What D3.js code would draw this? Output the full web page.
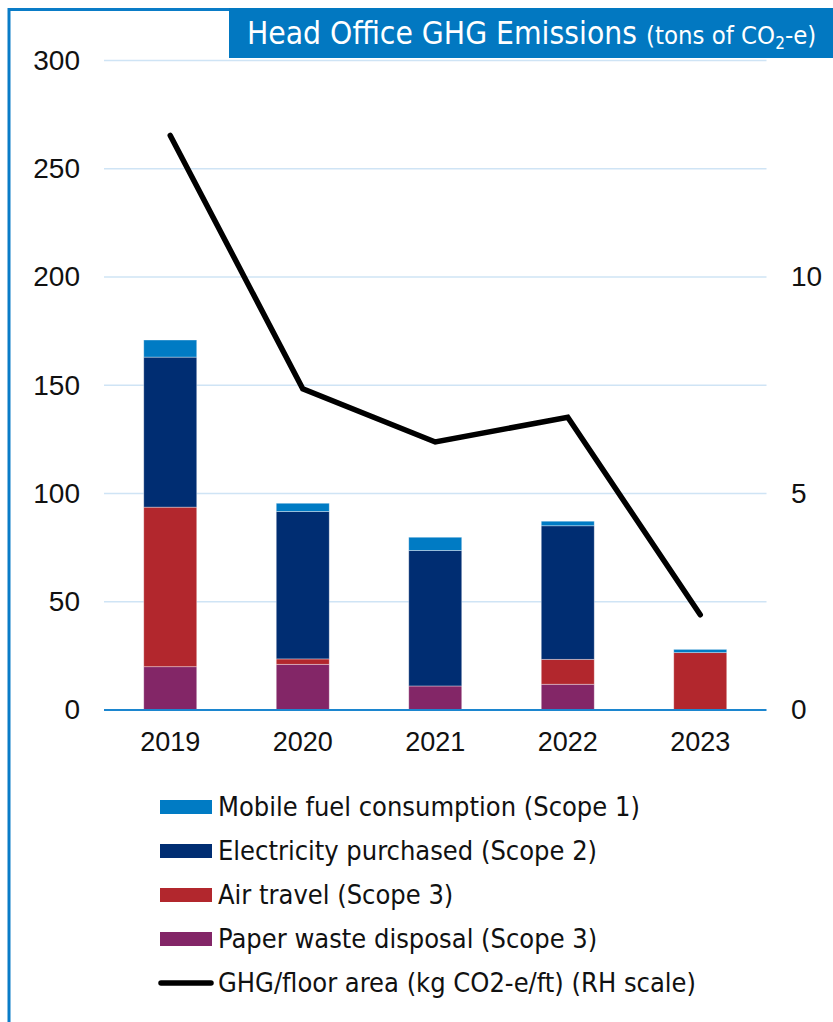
<!DOCTYPE html>
<html>
<head>
<meta charset="utf-8">
<script src="https://cdn.jsdelivr.net/npm/d3@7"></script>
<style>
  body { margin: 0; background: #fff; }
  svg { display: block; font-family: "DejaVu Sans Condensed", "Liberation Sans Narrow", sans-serif; }
</style>
</head>
<body>
<svg id="chart" width="833" height="1022"></svg>
<script>
const years = ['2019', '2020', '2021', '2022', '2023'];
const mobileFuel = [7.9, 3.8, 6.1, 2.1, 1.5];
const electricity = [69.3, 68.1, 62.6, 61.7, 0];
const airTravel = [73.7, 2.5, 0, 11.5, 26.5];
const paperWaste = [20.0, 21.1, 11.1, 11.9, 0];
const ghgPerArea = [13.27, 7.42, 6.19, 6.76, 2.2];
const leftTicks = [0, 50, 100, 150, 200, 250, 300];
const rightTicks = [0, 5, 10];

const seriesNames = ['Mobile fuel consumption (Scope 1)', 'Electricity purchased (Scope 2)',
  'Air travel (Scope 3)', 'Paper waste disposal (Scope 3)'];
const lineName = 'GHG/floor area (kg CO2-e/ft) (RH scale)';
const colors = {paper: '#832667', air: '#b2272d', elec: '#002d72', mobile: '#007bc4'};

const svg = d3.select('#chart');
const blue = '#0a7cc7';

// frame
svg.append('line').attr('x1', 9).attr('x2', 9).attr('y1', 8).attr('y2', 1022)
  .attr('stroke', blue).attr('stroke-width', 3);
svg.append('line').attr('x1', 8).attr('x2', 232).attr('y1', 9.5).attr('y2', 9.5)
  .attr('stroke', blue).attr('stroke-width', 3);

// scales
const x = d3.scaleBand().domain(years).range([104, 766.5]).paddingInner(0.6).paddingOuter(0.3);
const yL = d3.scaleLinear().domain([0, 300]).range([710, 60.5]);
const yR = d3.scaleLinear().domain([0, 15]).range([710, 60.5]);

// gridlines
svg.append('g').selectAll('line').data(leftTicks.slice(1)).join('line')
  .attr('x1', 104).attr('x2', 766.5)
  .attr('y1', d => yL(d)).attr('y2', d => yL(d))
  .attr('stroke', '#cfe4f5').attr('stroke-width', 1.5);

// stacked bars
const rows = years.map((y, i) => ({year: y, paper: paperWaste[i], air: airTravel[i],
  elec: electricity[i], mobile: mobileFuel[i]}));
const keys = ['paper', 'air', 'elec', 'mobile'];
const stack = d3.stack().keys(keys)(rows);
svg.append('g').selectAll('g').data(stack).join('g')
  .attr('fill', d => colors[d.key])
  .selectAll('rect').data(d => d).join('rect')
  .attr('x', d => x(d.data.year))
  .attr('width', x.bandwidth())
  .attr('y', d => yL(d[1]))
  .attr('height', d => yL(d[0]) - yL(d[1]))
  .attr('stroke', 'rgba(255,255,255,0.45)').attr('stroke-width', 0.8);

// x axis line
svg.append('line').attr('x1', 104).attr('x2', 766.5).attr('y1', 710).attr('y2', 710)
  .attr('stroke', '#1c86cf').attr('stroke-width', 2);

// left axis labels
const yAxisL = d3.axisLeft(yL).tickValues(leftTicks).tickSize(0).tickPadding(0);
const gL = svg.append('g').attr('transform', 'translate(80,0)').call(yAxisL);
gL.select('.domain').remove();
gL.selectAll('text').attr('font-size', 28).attr('fill', '#111').attr('font-family', 'inherit');

// right axis labels
const yAxisR = d3.axisRight(yR).tickValues(rightTicks).tickSize(0).tickPadding(0);
const gR = svg.append('g').attr('transform', 'translate(791,0)').call(yAxisR);
gR.select('.domain').remove();
gR.selectAll('text').attr('font-size', 28).attr('fill', '#111').attr('font-family', 'inherit');

// x labels
const xAxis = d3.axisBottom(x).tickSize(0).tickPadding(22);
const gX = svg.append('g').attr('transform', 'translate(0,710)').call(xAxis);
gX.select('.domain').remove();
gX.selectAll('text').attr('font-size', 27).attr('fill', '#111').attr('font-family', 'inherit');

// line on right scale
const line = d3.line().x((d, i) => x(years[i]) + x.bandwidth() / 2).y(d => yR(d));
svg.append('path').datum(ghgPerArea).attr('d', line)
  .attr('fill', 'none').attr('stroke', '#000').attr('stroke-width', 5.5)
  .attr('stroke-linecap', 'round').attr('stroke-linejoin', 'miter');

// title box
svg.append('rect').attr('x', 229).attr('y', 8).attr('width', 604).attr('height', 50).attr('fill', '#0278c1');
const title = svg.append('text').attr('x', 247).attr('y', 44).attr('fill', '#fff').attr('font-size', 31.5);
title.append('tspan').text('Head Office GHG Emissions ');
const sub = title.append('tspan').attr('font-size', 25.5);
sub.append('tspan').text('(tons of CO');
sub.append('tspan').attr('font-size', 17).attr('dy', 5).text('2');
sub.append('tspan').attr('dy', -5).text('-e)');

// legend
const legendY = [807, 851, 895, 939, 983];
const lg = svg.append('g');
seriesNames.forEach((name, i) => {
  const key = ['mobile', 'elec', 'air', 'paper'][i];
  lg.append('rect').attr('x', 160).attr('y', legendY[i] - 7).attr('width', 52).attr('height', 14)
    .attr('fill', colors[key]);
  lg.append('text').attr('x', 218).attr('y', legendY[i]).attr('dy', '0.35em')
    .attr('font-size', 27).attr('fill', '#111').text(name);
});
lg.append('line').attr('x1', 161).attr('x2', 211).attr('y1', legendY[4]).attr('y2', legendY[4])
  .attr('stroke', '#000').attr('stroke-width', 5.5).attr('stroke-linecap', 'round');
lg.append('text').attr('x', 218).attr('y', legendY[4]).attr('dy', '0.35em')
  .attr('font-size', 27).attr('fill', '#111').text(lineName);
</script>
</body>
</html>
